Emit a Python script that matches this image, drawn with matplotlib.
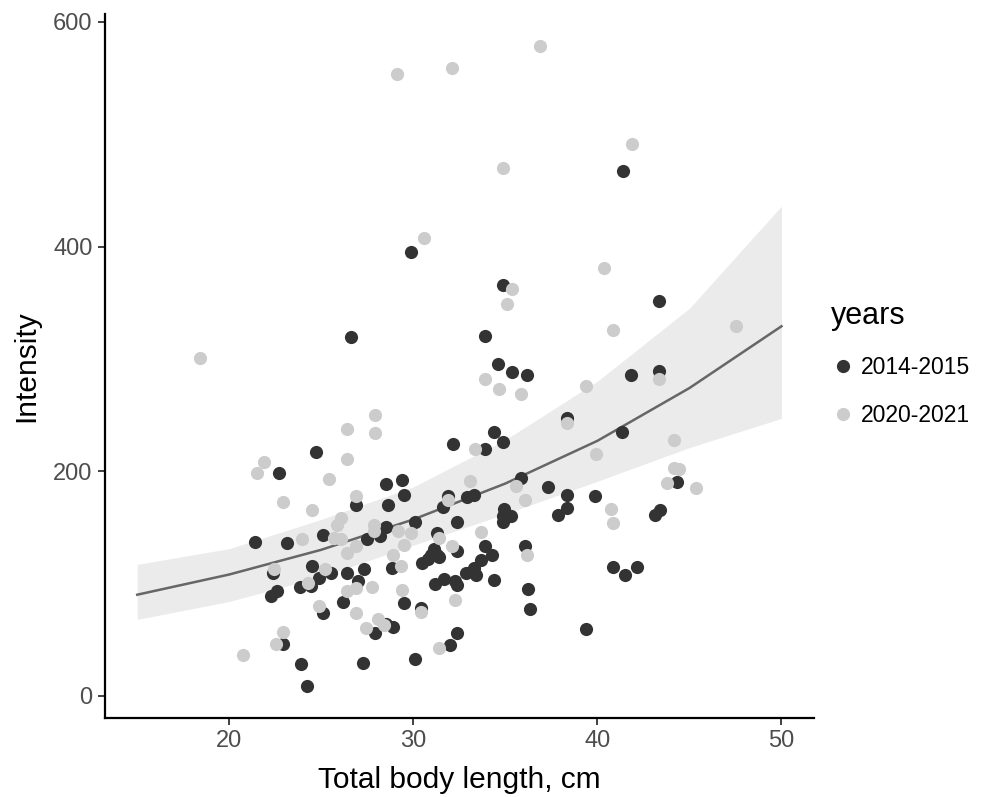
import matplotlib
matplotlib.use("Agg")
import matplotlib.pyplot as plt
from matplotlib.lines import Line2D

plt.rcParams['font.family'] = ['Liberation Sans', 'DejaVu Sans']

# 2014-2015 (dark points)
x_old = [29.85, 41.37, 26.6, 24.7, 22.7, 34.86, 33.89, 34.6, 35.37, 36.17,
         38.35, 34.37, 34.86, 32.17, 33.92, 35.87, 28.5, 29.39, 37.32, 43.34,
         41.84, 43.34, 41.35, 44.35, 39.87, 43.14, 43.38, 40.85, 41.48, 42.15,
         39.38, 29.5, 26.9, 28.6, 38.35, 37.85, 38.35, 31.9, 32.9, 33.29,
         31.63, 30.07, 32.39, 34.95, 35.28, 34.86, 34.86, 28.5, 28.19, 27.5,
         28.86, 31.3, 32.39, 31.12, 31.3, 30.94, 30.49, 30.8, 31.4, 33.87,
         34.25, 33.65, 33.29, 32.84, 33.38, 34.38, 31.16, 31.67, 32.35, 32.24,
         36.09, 36.24, 36.36, 29.5, 30.4, 32.39, 31.99, 30.07, 27.29, 26.2,
         27.0, 26.38, 27.33, 27.9, 28.92, 28.5, 25.1, 23.11, 21.41, 22.35,
         24.52, 24.89, 25.55, 24.43, 23.86, 22.62, 22.26, 25.1, 22.93, 23.89,
         24.21]
y_old = [394.7, 467, 319.4, 217.2, 198.1, 365.3, 320.3, 295.4, 288.3, 285.3,
         247.7, 235, 226, 224.3, 219.8, 194, 188.4, 192.5, 186, 351.1,
         285.3, 288.9, 235, 190.5, 177.7, 161.4, 165.8, 114.9, 107.8, 114.9,
         59.1, 179.2, 170.3, 170.3, 179.2, 161.4, 167.4, 178.3, 177.1, 179.2,
         168.2, 154.9, 154.9, 166.5, 159.9, 154.9, 160.5, 150.5, 142.1, 139.2,
         113.4, 145.1, 128.8, 130.3, 125, 125.8, 118.5, 121.4, 123.8, 133.2,
         125.8, 120.8, 114, 109.6, 107.2, 103, 99.2, 103.6, 98.3, 102.1,
         133.8, 95.3, 77.5, 82.3, 78.4, 56.2, 44.9, 32.5, 29.5, 83.4,
         102.1, 108.9, 112.5, 56.2, 61.2, 63.6, 143, 135.6, 137.1, 108.9,
         116, 104.5, 109.6, 97.6, 97.1, 93.2, 88.8, 74, 46.4, 28,
         8.7]

# 2020-2021 (light points)
x_new = [18.43, 29.1, 32.1, 30.6, 36.87, 41.88, 34.88, 26.4, 26.4, 21.9,
         21.5, 25.4, 35.37, 35.08, 33.89, 34.66, 35.87, 39.37, 27.9, 27.9,
         38.35, 33.34, 33.07, 39.94, 40.36, 40.85, 47.55, 43.34, 44.14, 44.14,
         44.46, 43.8, 45.35, 40.75, 40.85, 26.9, 35.58, 36.09, 31.9, 33.65,
         26.06, 26.06, 26.42, 26.87, 27.87, 27.87, 29.19, 29.86, 29.5, 28.9,
         29.31, 31.39, 32.08, 32.26, 36.18, 30.4, 31.4, 26.9, 26.42, 26.9,
         27.78, 29.4, 27.41, 28.09, 28.4, 22.93, 24.52, 25.88, 25.7, 23.93,
         22.41, 25.21, 24.29, 24.89, 22.93, 22.53, 20.73]
y_new = [300.4, 553.8, 558.6, 407.4, 578.5, 491.6, 470.3, 237.9, 210.9, 208.2,
         198.5, 193.1, 362.4, 348.4, 282.3, 273.2, 268.4, 275.5, 250, 234,
         243.2, 220.1, 191.4, 215.6, 381.3, 325.6, 328.9, 282.1, 228.1, 203,
         202.3, 189.6, 185.1, 166.7, 154, 177.7, 186.6, 174.1, 174.7, 146,
         158.5, 139.2, 127.3, 133.2, 152.5, 146.6, 146.6, 144.5, 134.1, 125.2,
         116, 140.1, 133.8, 85.2, 125.8, 74.5, 42.9, 73.4, 93.2, 95.6,
         97.1, 94.1, 60.6, 68.6, 62.7, 172.3, 165.2, 152.5, 140.7, 139.2,
         112.5, 112.5, 100, 79.9, 57.1, 46.4, 36]

# fitted curve and confidence band
fit_x = [15, 20, 25, 30, 35, 40, 45, 50]
fit_y = [90, 108, 130, 157, 189, 227, 274, 329]
fit_hi = [117, 131, 157, 186, 228, 280, 345, 436]
fit_lo = [68, 84, 106, 134, 162, 191, 221, 247]

groups = ["2014-2015", "2020-2021"]
colors = ["#333333", "#cccccc"]

fig = plt.figure(figsize=(9.87, 7.97), dpi=100)
ax = fig.add_axes([0.1064, 0.0995, 0.718, 0.8829])

ax.fill_between(fit_x, fit_lo, fit_hi, color="#ebebeb", lw=0, zorder=1)
ax.plot(fit_x, fit_y, color="#666666", lw=1.8, zorder=2)
ax.scatter(x_old, y_old, s=90, color=colors[0], lw=0, zorder=3)
ax.scatter(x_new, y_new, s=90, color=colors[1], lw=0, zorder=4)

ax.set_xlim(13.25, 51.75)
ax.set_ylim(-19.5, 607)
ax.set_xticks([20, 30, 40, 50])
ax.set_yticks([0, 200, 400, 600])
for s in ["top", "right"]:
    ax.spines[s].set_visible(False)
for s in ["left", "bottom"]:
    ax.spines[s].set_linewidth(1.6)
    ax.spines[s].set_color("black")
ax.tick_params(length=5, width=1.3, color="#333333", labelsize=17,
               labelcolor="#4d4d4d", pad=4)

ax.set_xlabel("Total body length, cm", fontsize=21.5, labelpad=10)
ax.set_ylabel("Intensity", fontsize=21.5, labelpad=9)

handles = [Line2D([], [], ls="", marker="o", ms=9.5, mec="none", mfc=c) for c in colors]
leg = fig.legend(handles, groups, title="years", loc="center left",
                 bbox_to_anchor=(0.833, 0.543), frameon=False, fontsize=16.5,
                 title_fontsize=22, handletextpad=0.3, labelspacing=1.1,
                 handlelength=1.0, borderaxespad=0)
leg._legend_box.align = "left"

fig.savefig("out.png", dpi=100, facecolor="white")
